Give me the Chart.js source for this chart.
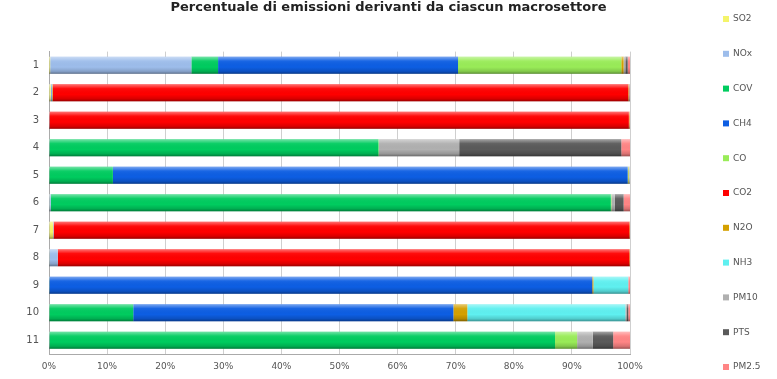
<!DOCTYPE html>
<html lang="it">
<head>
<meta charset="utf-8">
<title>Emissioni per macrosettore</title>
<script src="https://cdn.jsdelivr.net/npm/chart.js@4"></script>
<style>
	html, body { margin: 0; padding: 0; background: #fff; }
	#wrap { width: 777px; height: 379px; }
</style>
</head>
<body>
<div id="wrap"><canvas id="myChart"></canvas></div>
<script>
// Macrosettori 1..11, quota % di ciascun inquinante
const macrosettori = ["1", "2", "3", "4", "5", "6", "7", "8", "9", "10", "11"];
const tickX = [0, 10, 20, 30, 40, 50, 60, 70, 80, 90, 100];

const so2  = [0.2, 0.3, 0,    0,    0,    0.1,  0.7,  0.1,  0,    0,    0];
const nox  = [24.3, 0.1, 0.1, 0.1,  0,    0.2,  0.1,  1.4,  0,    0,    0.1];
const cov  = [4.6, 0,    0,    56.6, 11.0, 96.4, 0,    0,    0.1,  14.5, 87.0];
const ch4  = [41.3, 0.1, 0,    0,    88.6, 0,    0,    0,    93.4, 55.1, 0];
const co   = [28.1, 0.1, 0,    0.1,  0.1,  0.1,  0,    0,    0,    0,    3.8];
const co2  = [0,    99.1, 99.7, 0,   0,    0,    99.1, 98.4, 0,    0,    0];
const n2o  = [0.4,  0.1, 0.1,  0,    0.1,  0,    0.1,  0.1,  0.2,  2.4,  0];
const nh3  = [0,    0,    0,    0,    0.1,  0,    0,    0,    6.0,  27.2, 0];
const pm10 = [0.3,  0.05, 0,    13.8, 0,    0.6,  0,    0,    0,    0.2,  2.7];
const pts  = [0.4,  0.05, 0,    27.9, 0,    1.5,  0,    0,    0,    0.3,  3.5];
const pm25 = [0.4,  0.1,  0.1,  1.5,  0.1,  1.1,  0,    0,    0.3,  0.3,  2.9];

const serie = [
	{ label: "SO2",   data: so2,  color: "#f4f46a" },
	{ label: "NOx",   data: nox,  color: "#9dbdeb" },
	{ label: "COV",   data: cov,  color: "#00cc5f" },
	{ label: "CH4",   data: ch4,  color: "#0d5ee3" },
	{ label: "CO",    data: co,   color: "#99ec58" },
	{ label: "CO2",   data: co2,  color: "#ff0000" },
	{ label: "N2O",   data: n2o,  color: "#d4a000" },
	{ label: "NH3",   data: nh3,  color: "#5ff0f0" },
	{ label: "PM10",  data: pm10, color: "#b0b0b0" },
	{ label: "PTS",   data: pts,  color: "#5a5a5a" },
	{ label: "PM2.5", data: pm25, color: "#ff8585" },
];

// legenda disegnata a mano in un riquadro a destra
const legendBox = {
	position: "right",
	weight: 0,
	fullSize: false,
	options: { stack: undefined, stackWeight: 1 },
	update(maxWidth, maxHeight) {
		this.width = 147;
		this.height = maxHeight;
	},
	isHorizontal() { return false; },
	getPadding() { return { left: 0, right: 0, top: 0, bottom: 0 }; },
	draw() {
		const ctx = this.chart.ctx;
		const x0 = this.chart.width - 54;
		ctx.save();
		ctx.font = "9px 'DejaVu Sans'";
		ctx.textBaseline = "middle";
		this.chart.data.datasets.forEach((ds, i) => {
			const y = 19 + i * 34.8;
			ctx.fillStyle = ds.backgroundColor;
			ctx.fillRect(x0, y - 3, 6, 6);
			ctx.fillStyle = "#555";
			ctx.fillText(ds.label, x0 + 10, y);
		});
		ctx.restore();
	},
};

// ombreggiatura "cilindrica" sopra ogni barra
const barShade = {
	id: "barShade",
	beforeInit(chart) {
		legendBox.chart = chart;
		Chart.layouts.addBox(chart, legendBox);
	},
	afterDatasetsDraw(chart) {
		const ctx = chart.ctx;
		const xs = chart.scales.x;
		const meta = chart.getDatasetMeta(0);
		meta.data.forEach((bar, i) => {
			let tot = 0;
			chart.data.datasets.forEach((ds) => { tot += ds.data[i]; });
			const x1 = xs.getPixelForValue(0);
			const x2 = xs.getPixelForValue(Math.min(tot, 100));
			const top = bar.y - bar.height / 2;
			const g = ctx.createLinearGradient(0, top, 0, top + bar.height);
			g.addColorStop(0, "rgba(255,255,255,0.45)");
			g.addColorStop(0.25, "rgba(255,255,255,0.05)");
			g.addColorStop(0.6, "rgba(0,0,0,0)");
			g.addColorStop(0.85, "rgba(0,0,0,0.15)");
			g.addColorStop(1, "rgba(0,0,0,0.4)");
			ctx.save();
			ctx.fillStyle = g;
			ctx.fillRect(x1, top, x2 - x1, bar.height);
			ctx.restore();
		});
	},
};

const ctx = document.getElementById("myChart").getContext("2d");
const myChart = new Chart(ctx, {
	type: "bar",
	data: {
		labels: macrosettori,
		datasets: serie.map((s) => ({
			label: s.label,
			data: s.data,
			backgroundColor: s.color,
			borderWidth: 0,
			categoryPercentage: 1,
			barPercentage: 0.62,
		})),
	},
	options: {
		indexAxis: "y",
		responsive: true,
		maintainAspectRatio: false,
		animation: false,
		layout: { padding: 0 },
		plugins: {
			legend: { display: false },
			tooltip: { enabled: false },
			title: {
				display: true,
				text: "Percentuale di emissioni derivanti da ciascun macrosettore",
				color: "#222",
				font: { family: "'DejaVu Sans'", size: 13, weight: "bold" },
				padding: { top: 0, bottom: 36 },
			},
		},
		scales: {
			x: {
				stacked: true,
				min: 0,
				max: 100,
				afterBuildTicks: (axis) => { axis.ticks = tickX.map((v) => ({ value: v })); },
				afterFit: (scale) => { scale.height = 25; },
				ticks: {
					color: "#555",
					font: { family: "'DejaVu Sans'", size: 9 },
					padding: 7,
					maxRotation: 0,
					callback: (v) => v + "%",
				},
				grid: { color: "#cfcfcf", drawTicks: false },
				border: { color: "#aaa" },
			},
			y: {
				stacked: true,
				afterFit: (scale) => { scale.width = 49; },
				ticks: {
					color: "#555",
					font: { family: "'DejaVu Sans'", size: 10 },
					padding: 10,
				},
				grid: { display: false, drawTicks: false },
				border: { color: "#aaa" },
			},
		},
	},
	plugins: [barShade],
});
</script>
</body>
</html>
